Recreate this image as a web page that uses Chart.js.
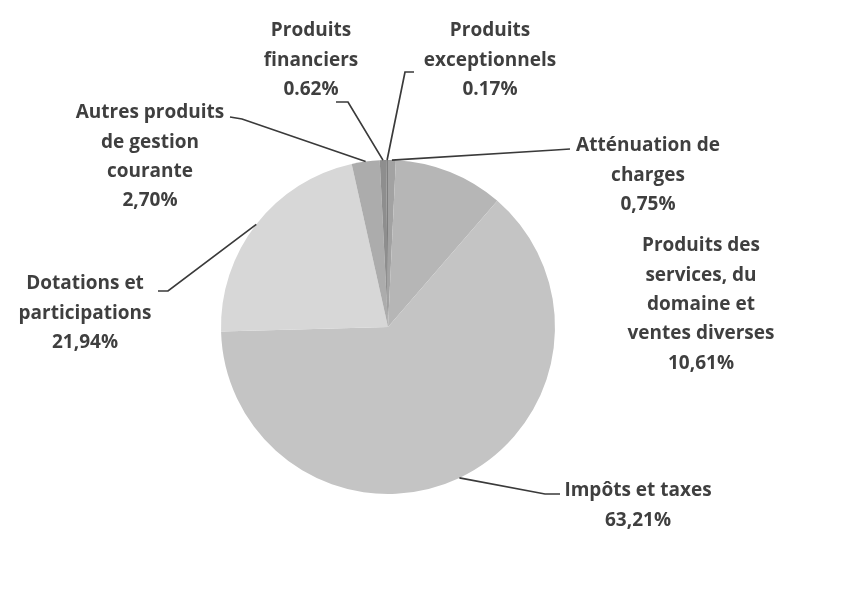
<!DOCTYPE html>
<html>
<head>
<meta charset="utf-8">
<script src="https://cdn.jsdelivr.net/npm/chart.js@4"></script>
<style>
html,body{margin:0;padding:0;background:#ffffff;}
#wrap{width:862px;height:611px;position:relative;}
</style>
</head>
<body>
<div id="wrap"><canvas id="c" width="862" height="611"></canvas></div>
<script>
// ---- Data ----
const categories = [
  "Atténuation de charges",
  "Produits des services, du domaine et ventes diverses",
  "Impôts et taxes",
  "Dotations et participations",
  "Autres produits de gestion courante",
  "Produits financiers",
  "Produits exceptionnels"
];
const shares = [0.75, 10.61, 63.21, 21.94, 2.70, 0.62, 0.17];
const shareLabels = ["0,75%", "10,61%", "63,21%", "21,94%", "2,70%", "0.62%", "0.17%"];
const labelLines = [
  ["Atténuation de", "charges"],
  ["Produits des", "services, du", "domaine et", "ventes diverses"],
  ["Impôts et taxes"],
  ["Dotations et", "participations"],
  ["Autres produits", "de gestion", "courante"],
  ["Produits", "financiers"],
  ["Produits", "exceptionnels"]
];
const sliceColors = ["#a2a2a2", "#b6b6b6", "#c4c4c4", "#d7d7d7", "#acacac", "#8e8e8e", "#7e7e7e"];

// ---- Label layout (text centre x, first line y, leader path) ----
const labelLayout = [
  {x: 648, y: 146, leader: [[555, 150], [570, 149]]},
  {x: 701, y: 246, leader: null},
  {x: 638, y: 491, leader: [[545, 494], [560, 494]]},
  {x: 85,  y: 284, leader: [[168, 291], [158, 291]]},
  {x: 150, y: 113, leader: [[242, 119], [230, 117]]},
  {x: 311, y: 31,  leader: [[348, 102], [336, 102]]},
  {x: 490, y: 31,  leader: [[405, 72], [414, 72]]}
];
const lineHeight = 29.3;

const labelPlugin = {
  id: 'outerLabels',
  afterDatasetsDraw(chart) {
    const ctx = chart.ctx;
    const meta = chart.getDatasetMeta(0);
    ctx.save();
    ctx.font = "700 19px 'Open Sans', 'DejaVu Sans', sans-serif";
    ctx.fillStyle = "#3f3f3f";
    ctx.textAlign = "center";
    ctx.textBaseline = "middle";
    meta.data.forEach((arc, i) => {
      const p = arc.getProps(['x', 'y', 'startAngle', 'endAngle', 'outerRadius'], true);
      const mid = (p.startAngle + p.endAngle) / 2;
      const ax = p.x + Math.cos(mid) * p.outerRadius;
      const ay = p.y + Math.sin(mid) * p.outerRadius;
      const L = labelLayout[i];
      if (L.leader) {
        ctx.beginPath();
        ctx.strokeStyle = "#3a3a3a";
        ctx.lineWidth = 1.7;
        ctx.moveTo(ax, ay);
        L.leader.forEach(pt => ctx.lineTo(pt[0], pt[1]));
        ctx.stroke();
      }
      const lines = labelLines[i].concat([shareLabels[i]]);
      lines.forEach((t, k) => {
        ctx.fillText(t, L.x, L.y + k * lineHeight);
      });
    });
    ctx.restore();
  }
};

new Chart(document.getElementById('c'), {
  type: 'pie',
  data: {
    labels: categories,
    datasets: [{
      data: shares,
      backgroundColor: sliceColors,
      borderWidth: 0
    }]
  },
  options: {
    responsive: false,
    animation: false,
    rotation: 0,
    layout: {padding: {left: 221, right: 307, top: 160, bottom: 117}},
    plugins: {
      legend: {display: false},
      tooltip: {enabled: false}
    }
  },
  plugins: [labelPlugin]
});
</script>
</body>
</html>
